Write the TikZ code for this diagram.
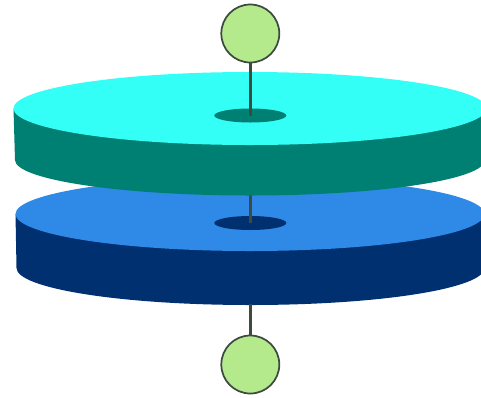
\documentclass[tikz,border=0pt]{standalone}
\usetikzlibrary{shapes.geometric}
\definecolor{cyantop}{HTML}{33FFF6}
\definecolor{tealside}{HTML}{007F73}
\definecolor{bluetop}{HTML}{2E8AE6}
\definecolor{navyside}{HTML}{003070}
\definecolor{ballgreen}{HTML}{B5EA8C}
\definecolor{wire}{HTML}{3C4A40}
\tikzset{
  ball/.style={circle,draw=wire,line width=1.3pt,fill=ballgreen,minimum size=43.5pt,inner sep=0pt},
  hole/.style={ellipse,minimum width=54pt,minimum height=10.5pt,inner sep=0pt},
  wireline/.style={draw=wire,line width=2.1pt}
}
\begin{document}
\begin{tikzpicture}[x=0.75pt,y=-0.75pt]
\useasboundingbox (0,0) rectangle (481,397);
\clip (0,0) rectangle (481,397);
% lower disc
\fill[navyside] (15.5,214) -- (16.5,268) arc[start angle=180,end angle=0,x radius=234,y radius=37] -- (484.5,214) -- cycle;
\fill[bluetop] (250,214) ellipse[x radius=234.5,y radius=37];
\node[hole,fill=navyside] (holeB) at (250.3,223) {};
\node[ball] (ballB) at (250.3,364.5) {};
\coordinate (underB) at (250.3,304);
\coordinate (overB) at (250.3,190);
\draw[wireline] (holeB.center) -- (overB);
\draw[wireline] (underB) -- (ballB.north);
% upper disc
\fill[tealside] (13.5,108.5) -- (15,160) arc[start angle=180,end angle=0,x radius=235,y radius=35.5] -- (486.5,108.5) -- cycle;
\fill[cyantop] (250,108.5) ellipse[x radius=236.5,y radius=36.5];
\node[hole,fill=tealside] (holeA) at (250.3,115.5) {};
\node[ball] (ballA) at (250.3,33.5) {};
\draw[wireline] (ballA.south) -- (holeA.center);
\end{tikzpicture}
\end{document}
